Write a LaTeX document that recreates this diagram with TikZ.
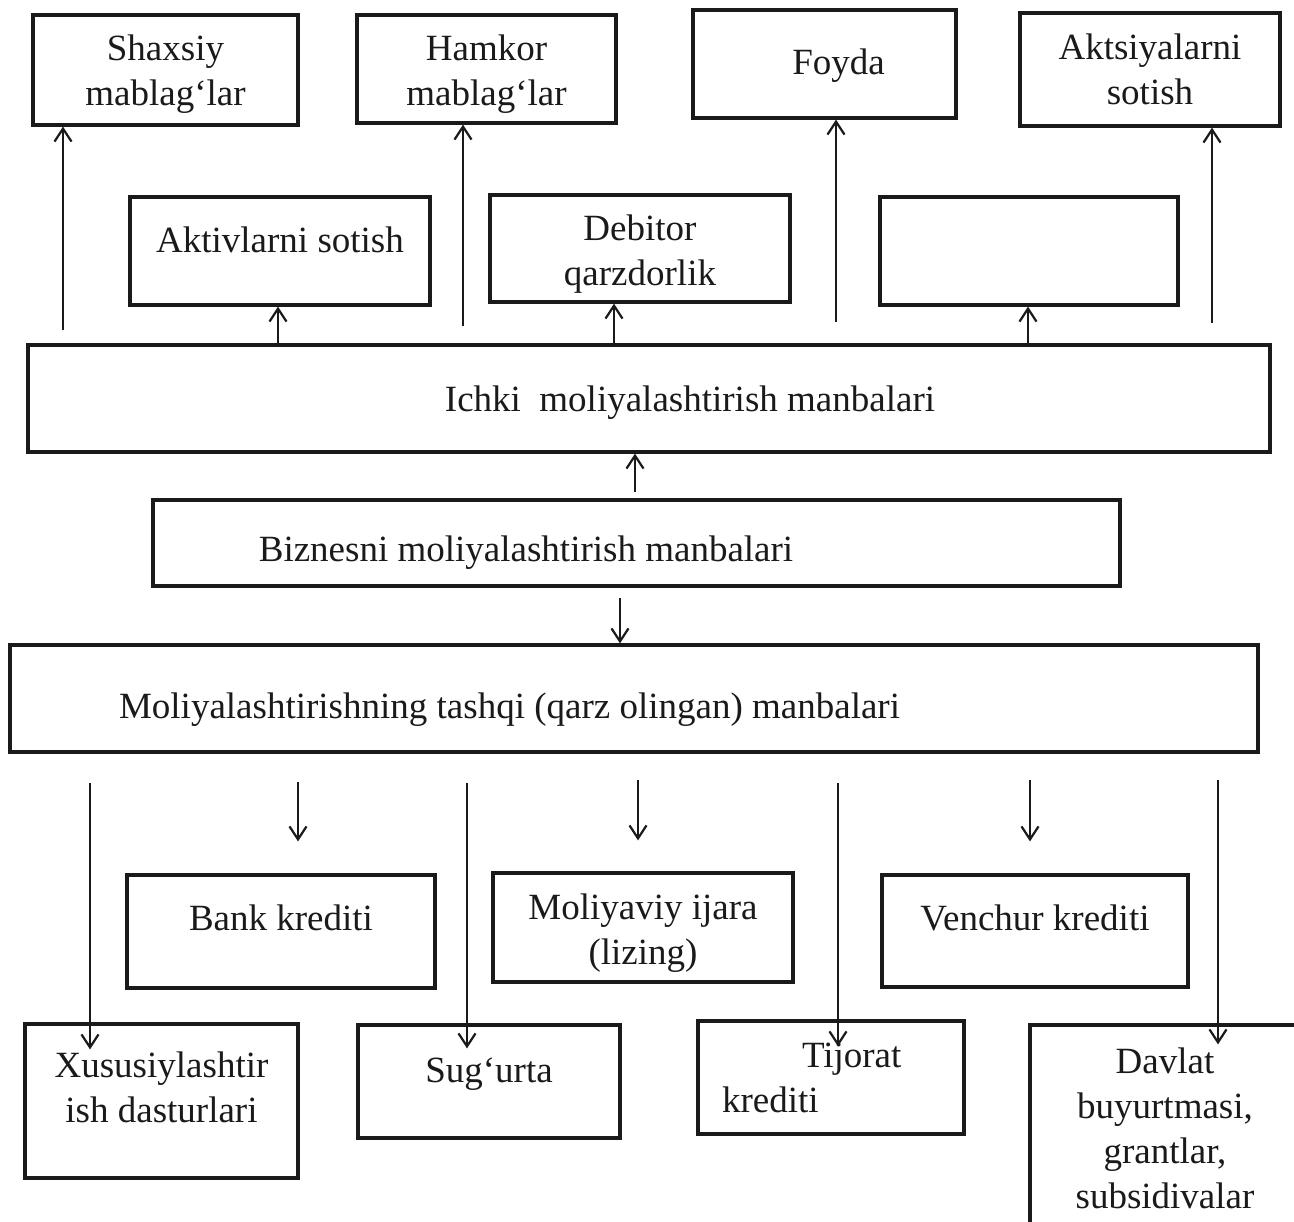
\documentclass[tikz,border=0pt]{standalone}
\usepackage{fontspec}
\setmainfont{Liberation Serif}
\usetikzlibrary{arrows.meta}
\definecolor{ink}{HTML}{1A1A1A}
\begin{document}
\begin{tikzpicture}[x=1pt,y=-1pt,
  box/.style={draw=ink, line width=3.2pt, inner sep=0pt, text=ink,
    font=\fontsize{37}{45}\selectfont},
  arr/.style={draw=ink, line width=2.2pt,
    -{Straight Barb[length=13pt,width=17pt,line width=2.2pt]}}]
% page frame
\path[use as bounding box, clip] (0,0) rectangle (1294,1222);
\fill[white] (0,0) rectangle (1294,1222);

% top row
\node[box, align=center, minimum width=265pt, minimum height=110pt] (shaxsiy) at (165.5,70) {\rule{0pt}{33pt}Shaxsiy\\mablag‘lar};
\node[box, align=center, minimum width=259pt, minimum height=108pt] (hamkor) at (486.5,69) {\rule{0pt}{35pt}Hamkor\\mablag‘lar};
\node[box, minimum width=263pt, minimum height=108pt] (foyda) at (824.5,64) {\hspace*{28pt}Foyda\rule{0pt}{28pt}};
\node[box, align=center, minimum width=260pt, minimum height=113pt] (aktsiya) at (1150,69.5) {Aktsiyalarni\\sotish};

% second row
\node[box, minimum width=300pt, minimum height=108pt] (aktivlar) at (280,251) {Aktivlarni sotish\rule[-22pt]{0pt}{0pt}};
\node[box, align=center, minimum width=300pt, minimum height=107pt] (debitor) at (640,248.5) {\rule{0pt}{36pt}Debitor\\qarzdorlik};
\node[box, minimum width=298pt, minimum height=108pt] (bosh) at (1029,251) {};

% main bars
\node[box, minimum width=1242pt, minimum height=107pt] (ichki) at (649,398.5) {\hspace*{82pt}Ichki\ \ moliyalashtirish manbalari\rule{0pt}{33pt}};
\node[box, minimum width=967pt, minimum height=86pt] (biznes) at (636.5,543) {Biznesni moliyalashtirish manbalari\rule{0pt}{44pt}\hspace*{221pt}};
\node[box, minimum width=1248pt, minimum height=107pt] (moliya) at (634,698.5) {Moliyalashtirishning tashqi (qarz olingan) manbalari\rule{0pt}{47pt}\hspace*{249pt}};

% lower middle row
\node[box, minimum width=308pt, minimum height=113pt] (bank) at (281,931.5) {Bank krediti\rule[-27pt]{0pt}{0pt}};
\node[box, align=center, minimum width=300pt, minimum height=109pt] (moliyaviy) at (643,927.5) {\rule{0pt}{37pt}Moliyaviy ijara\\(lizing)};
\node[box, minimum width=306pt, minimum height=112pt] (venchur) at (1035,931) {Venchur krediti\rule[-26pt]{0pt}{0pt}};

% bottom row
\node[box, align=center, minimum width=273pt, minimum height=154pt] (xusus) at (161.5,1101) {Xususiylashtir\\ish dasturlari\rule[-27pt]{0pt}{0pt}};
\node[box, minimum width=262pt, minimum height=113pt] (sugurta) at (489,1081.5) {Sug‘urta\rule[-22pt]{0pt}{0pt}};
\node[box, align=left, text width=218pt, minimum width=266pt, minimum height=113pt] (tijorat) at (831,1077.5) {\hspace*{80pt}Tijorat\\krediti};
\node[box, align=center, minimum width=270pt, minimum height=207pt] (davlat) at (1165,1128.5) {Davlat\\buyurtmasi,\\grantlar,\\subsidivalar};

% upward connectors to the top row
\coordinate (u1) at (63,330);
\coordinate (u2) at (463,326);
\coordinate (u3) at (836,322);
\coordinate (u4) at (1212,323);
\draw[arr] (u1) -- (u1 |- shaxsiy.south);
\draw[arr] (u2) -- (u2 |- hamkor.south);
\draw[arr] (u3) -- (u3 |- foyda.south);
\draw[arr] (u4) -- (u4 |- aktsiya.south);

% upward connectors to the second row
\coordinate (k1) at (278,345);
\coordinate (k2) at (614,345);
\coordinate (k3) at (1028,345);
\draw[arr] (k1) -- (k1 |- aktivlar.south);
\draw[arr] (k2) -- (k2 |- debitor.south);
\draw[arr] (k3) -- (k3 |- bosh.south);

% central links
\coordinate (b1) at (635,492);
\coordinate (b2) at (620,598);
\draw[arr] (b1) -- (b1 |- ichki.south);
\draw[arr] (b2) -- (b2 |- moliya.north);

% short downward connectors
\coordinate (s1) at (298,782);
\coordinate (s2) at (638,780);
\coordinate (s3) at (1030,780);
\draw[arr] (s1) -- ([yshift=32pt]bank.north -| s1);
\draw[arr] (s2) -- ([yshift=31pt]moliyaviy.north -| s2);
\draw[arr] (s3) -- ([yshift=32pt]venchur.north -| s3);

% long downward connectors
\coordinate (l1) at (90,783);
\coordinate (l2) at (467,783);
\coordinate (l3) at (838,783);
\coordinate (l4) at (1218,780);
\draw[arr] (l1) -- ([yshift=-27pt]xusus.north -| l1);
\draw[arr] (l2) -- ([yshift=-25pt]sugurta.north -| l2);
\draw[arr] (l3) -- ([yshift=-27pt]tijorat.north -| l3);
\draw[arr] (l4) -- ([yshift=-21pt]davlat.north -| l4);
\end{tikzpicture}
\end{document}
